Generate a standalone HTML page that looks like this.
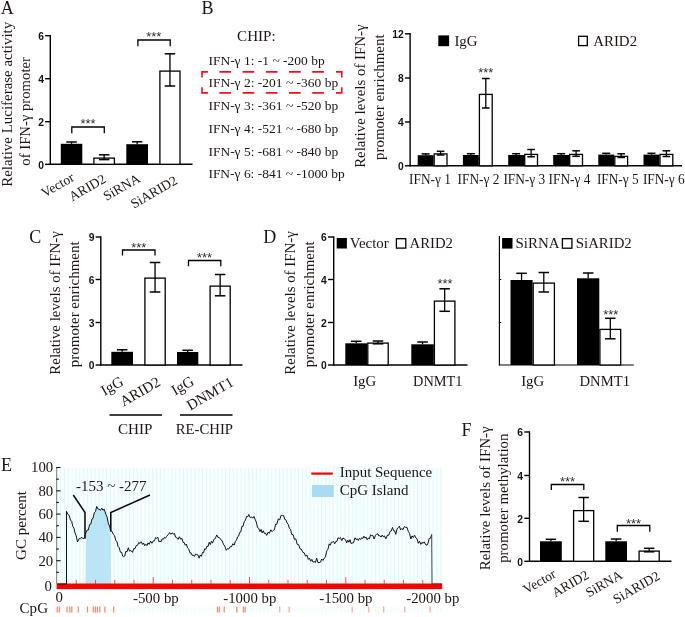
<!DOCTYPE html>
<html lang="en"><head><meta charset="utf-8"><title>Figure</title>
<style>html,body{margin:0;padding:0;background:#fff}svg{display:block}</style></head><body>
<svg width="685" height="617" viewBox="0 0 685 617">
<rect width="685" height="617" fill="#fff"/>
<text x="0.8" y="13.6" font-size="18" font-family="Liberation Serif, serif" fill="#1d1512">A</text>
<text x="201.5" y="13.7" font-size="18" font-family="Liberation Serif, serif" fill="#1d1512">B</text>
<text x="29.3" y="242.5" font-size="18" font-family="Liberation Serif, serif" fill="#1d1512">C</text>
<text x="263.3" y="242.5" font-size="18" font-family="Liberation Serif, serif" fill="#1d1512">D</text>
<text x="1" y="470.5" font-size="18" font-family="Liberation Serif, serif" fill="#1d1512">E</text>
<text x="461.6" y="436.2" font-size="18" font-family="Liberation Serif, serif" fill="#1d1512">F</text>
<line x1="50.3" y1="35.0" x2="50.3" y2="165.0" stroke="#000" stroke-width="1.4"/>
<line x1="45.099999999999994" y1="35.7" x2="50.3" y2="35.7" stroke="#000" stroke-width="1.4"/>
<text x="43.9" y="39.91" font-size="10.3" font-family="Liberation Sans, sans-serif" fill="#111" text-anchor="end" font-weight="bold">6</text>
<line x1="45.099999999999994" y1="78.7" x2="50.3" y2="78.7" stroke="#000" stroke-width="1.4"/>
<text x="43.9" y="82.91" font-size="10.3" font-family="Liberation Sans, sans-serif" fill="#111" text-anchor="end" font-weight="bold">4</text>
<line x1="45.099999999999994" y1="121.7" x2="50.3" y2="121.7" stroke="#000" stroke-width="1.4"/>
<text x="43.9" y="125.91" font-size="10.3" font-family="Liberation Sans, sans-serif" fill="#111" text-anchor="end" font-weight="bold">2</text>
<line x1="45.099999999999994" y1="164.3" x2="50.3" y2="164.3" stroke="#000" stroke-width="1.4"/>
<text x="43.9" y="168.51" font-size="10.3" font-family="Liberation Sans, sans-serif" fill="#111" text-anchor="end" font-weight="bold">0</text>
<line x1="50.3" y1="164.3" x2="192.5" y2="164.3" stroke="#000" stroke-width="1.4"/>
<rect x="60.80" y="143.80" width="21.50" height="20.50" fill="#000"/>
<line x1="71.55" y1="142.0" x2="71.55" y2="143.8" stroke="#000" stroke-width="1.3"/>
<line x1="66.3" y1="142.0" x2="76.8" y2="142.0" stroke="#000" stroke-width="1.5"/>
<rect x="93.90" y="158.10" width="20.50" height="6.20" fill="#fff" stroke="#000" stroke-width="1.3"/>
<line x1="104.15" y1="154.8" x2="104.15" y2="159.6" stroke="#000" stroke-width="1.3"/>
<line x1="98.9" y1="154.8" x2="109.4" y2="154.8" stroke="#000" stroke-width="1.5"/>
<line x1="98.9" y1="159.6" x2="109.4" y2="159.6" stroke="#000" stroke-width="1.5"/>
<rect x="126.30" y="144.20" width="21.70" height="20.10" fill="#000"/>
<line x1="137.15" y1="141.8" x2="137.15" y2="144.2" stroke="#000" stroke-width="1.3"/>
<line x1="131.9" y1="141.8" x2="142.4" y2="141.8" stroke="#000" stroke-width="1.5"/>
<rect x="159.90" y="71.10" width="20.10" height="93.20" fill="#fff" stroke="#000" stroke-width="1.3"/>
<line x1="169.95" y1="53.8" x2="169.95" y2="86.0" stroke="#000" stroke-width="1.3"/>
<line x1="164.7" y1="53.8" x2="175.2" y2="53.8" stroke="#000" stroke-width="1.5"/>
<line x1="164.7" y1="86.0" x2="175.2" y2="86.0" stroke="#000" stroke-width="1.5"/>
<path d="M71.8 133.3 V127.0 H104.3 V133.3" fill="none" stroke="#000" stroke-width="1.3"/>
<text x="88" y="128.3" font-size="12.5" font-family="Liberation Sans, sans-serif" fill="#2a2a2a" text-anchor="middle" textLength="15.2" lengthAdjust="spacingAndGlyphs">***</text>
<path d="M137.9 46.3 V40.0 H170.2 V46.3" fill="none" stroke="#000" stroke-width="1.3"/>
<text x="153.8" y="41.4" font-size="12.5" font-family="Liberation Sans, sans-serif" fill="#2a2a2a" text-anchor="middle" textLength="15.2" lengthAdjust="spacingAndGlyphs">***</text>
<text x="11.6" y="104.3" font-size="14.9" font-family="Liberation Serif, serif" fill="#1d1512" text-anchor="middle" transform="rotate(-90 11.6 104.3)" textLength="165" lengthAdjust="spacingAndGlyphs">Relative Luciferase activity</text>
<text x="29.7" y="111.4" font-size="14.9" font-family="Liberation Serif, serif" fill="#1d1512" text-anchor="middle" transform="rotate(-90 29.7 111.4)" textLength="108.6" lengthAdjust="spacingAndGlyphs">of IFN-γ promoter</text>
<text x="75.2" y="180.0" font-size="13.6" font-family="Liberation Serif, serif" fill="#1d1512" text-anchor="end" transform="rotate(-30 75.2 180.0)">Vector</text>
<text x="107.0" y="181.5" font-size="13.6" font-family="Liberation Serif, serif" fill="#1d1512" text-anchor="end" transform="rotate(-30 107.0 181.5)">ARID2</text>
<text x="141.2" y="181.0" font-size="13.6" font-family="Liberation Serif, serif" fill="#1d1512" text-anchor="end" transform="rotate(-30 141.2 181.0)">SiRNA</text>
<text x="178.5" y="183.0" font-size="13.6" font-family="Liberation Serif, serif" fill="#1d1512" text-anchor="end" transform="rotate(-30 178.5 183.0)">SiARID2</text>
<text x="237.1" y="41.3" font-size="14.9" font-family="Liberation Serif, serif" fill="#1d1512" textLength="38.6" lengthAdjust="spacingAndGlyphs">CHIP:</text>
<text x="208.4" y="64.5" font-size="13.5" font-family="Liberation Serif, serif" fill="#1d1512" textLength="116.3" lengthAdjust="spacingAndGlyphs">IFN-γ 1: -1 ~ -200 bp</text>
<text x="208.4" y="86.8" font-size="13.5" font-family="Liberation Serif, serif" fill="#1d1512" textLength="129.8" lengthAdjust="spacingAndGlyphs">IFN-γ 2: -201 ~ -360 bp</text>
<text x="208.4" y="109.8" font-size="13.5" font-family="Liberation Serif, serif" fill="#1d1512" textLength="129.8" lengthAdjust="spacingAndGlyphs">IFN-γ 3: -361 ~ -520 bp</text>
<text x="208.4" y="132.5" font-size="13.5" font-family="Liberation Serif, serif" fill="#1d1512" textLength="129.8" lengthAdjust="spacingAndGlyphs">IFN-γ 4: -521 ~ -680 bp</text>
<text x="208.4" y="155.5" font-size="13.5" font-family="Liberation Serif, serif" fill="#1d1512" textLength="129.8" lengthAdjust="spacingAndGlyphs">IFN-γ 5: -681 ~ -840 bp</text>
<text x="208.4" y="178.3" font-size="13.5" font-family="Liberation Serif, serif" fill="#1d1512" textLength="136.3" lengthAdjust="spacingAndGlyphs">IFN-γ 6: -841 ~ -1000 bp</text>
<path d="M202 77.6 V71.9 H207.9 M336 71.9 H341.8 V77.6 M341.8 87.2 V92.9 H336 M207.9 92.9 H202 V87.2 M219.4 71.9 h11.7 M219.4 92.9 h11.7 M242.6 71.9 h11.7 M242.6 92.9 h11.7 M265.8 71.9 h11.7 M265.8 92.9 h11.7 M289.0 71.9 h11.7 M289.0 92.9 h11.7 M312.2 71.9 h11.7 M312.2 92.9 h11.7" fill="none" stroke="#fb0d14" stroke-width="1.6"/>
<line x1="410.1" y1="33.099999999999994" x2="410.1" y2="166.5" stroke="#000" stroke-width="1.4"/>
<line x1="404.90000000000003" y1="33.8" x2="410.1" y2="33.8" stroke="#000" stroke-width="1.4"/>
<text x="403.7" y="38.01" font-size="10.3" font-family="Liberation Sans, sans-serif" fill="#111" text-anchor="end" font-weight="bold">12</text>
<line x1="404.90000000000003" y1="78.0" x2="410.1" y2="78.0" stroke="#000" stroke-width="1.4"/>
<text x="403.7" y="82.21" font-size="10.3" font-family="Liberation Sans, sans-serif" fill="#111" text-anchor="end" font-weight="bold">8</text>
<line x1="404.90000000000003" y1="122.0" x2="410.1" y2="122.0" stroke="#000" stroke-width="1.4"/>
<text x="403.7" y="126.21" font-size="10.3" font-family="Liberation Sans, sans-serif" fill="#111" text-anchor="end" font-weight="bold">4</text>
<line x1="404.90000000000003" y1="165.8" x2="410.1" y2="165.8" stroke="#000" stroke-width="1.4"/>
<text x="403.7" y="170.01" font-size="10.3" font-family="Liberation Sans, sans-serif" fill="#111" text-anchor="end" font-weight="bold">0</text>
<line x1="410.1" y1="165.8" x2="682" y2="165.8" stroke="#000" stroke-width="1.4"/>
<text x="365.5" y="96.1" font-size="14.9" font-family="Liberation Serif, serif" fill="#1d1512" text-anchor="middle" transform="rotate(-90 365.5 96.1)" textLength="143.4" lengthAdjust="spacingAndGlyphs">Relative levels of IFN-γ</text>
<text x="384.3" y="97.2" font-size="14.9" font-family="Liberation Serif, serif" fill="#1d1512" text-anchor="middle" transform="rotate(-90 384.3 97.2)" textLength="125.6" lengthAdjust="spacingAndGlyphs">promoter enrichment</text>
<rect x="417.70" y="155.20" width="15.90" height="10.60" fill="#000"/>
<line x1="425.65" y1="153.89999999999998" x2="425.65" y2="155.2" stroke="#000" stroke-width="1.3"/>
<line x1="421.65" y1="153.89999999999998" x2="429.65" y2="153.89999999999998" stroke="#000" stroke-width="1.5"/>
<rect x="434.20" y="153.90" width="12.80" height="11.90" fill="#fff" stroke="#000" stroke-width="1.3"/>
<line x1="440.6" y1="151.3" x2="440.6" y2="155.0" stroke="#000" stroke-width="1.3"/>
<line x1="436.8" y1="151.3" x2="444.4" y2="151.3" stroke="#000" stroke-width="1.5"/>
<line x1="436.8" y1="155.0" x2="444.4" y2="155.0" stroke="#000" stroke-width="1.5"/>
<rect x="462.90" y="155.00" width="15.90" height="10.80" fill="#000"/>
<line x1="470.85" y1="153.7" x2="470.85" y2="155.0" stroke="#000" stroke-width="1.3"/>
<line x1="466.85" y1="153.7" x2="474.85" y2="153.7" stroke="#000" stroke-width="1.5"/>
<rect x="479.40" y="94.40" width="12.80" height="71.40" fill="#fff" stroke="#000" stroke-width="1.3"/>
<line x1="485.8" y1="78.5" x2="485.8" y2="108.0" stroke="#000" stroke-width="1.3"/>
<line x1="482.0" y1="78.5" x2="489.6" y2="78.5" stroke="#000" stroke-width="1.5"/>
<line x1="482.0" y1="108.0" x2="489.6" y2="108.0" stroke="#000" stroke-width="1.5"/>
<rect x="508.20" y="155.00" width="15.90" height="10.80" fill="#000"/>
<line x1="516.15" y1="153.7" x2="516.15" y2="155.0" stroke="#000" stroke-width="1.3"/>
<line x1="512.15" y1="153.7" x2="520.15" y2="153.7" stroke="#000" stroke-width="1.5"/>
<rect x="524.70" y="154.40" width="12.80" height="11.40" fill="#fff" stroke="#000" stroke-width="1.3"/>
<line x1="531.1" y1="149.5" x2="531.1" y2="156.8" stroke="#000" stroke-width="1.3"/>
<line x1="527.3" y1="149.5" x2="534.9" y2="149.5" stroke="#000" stroke-width="1.5"/>
<line x1="527.3" y1="156.8" x2="534.9" y2="156.8" stroke="#000" stroke-width="1.5"/>
<rect x="553.20" y="155.00" width="15.90" height="10.80" fill="#000"/>
<line x1="561.15" y1="153.7" x2="561.15" y2="155.0" stroke="#000" stroke-width="1.3"/>
<line x1="557.15" y1="153.7" x2="565.15" y2="153.7" stroke="#000" stroke-width="1.5"/>
<rect x="569.70" y="154.40" width="12.80" height="11.40" fill="#fff" stroke="#000" stroke-width="1.3"/>
<line x1="576.1" y1="150.8" x2="576.1" y2="156.3" stroke="#000" stroke-width="1.3"/>
<line x1="572.3" y1="150.8" x2="579.9" y2="150.8" stroke="#000" stroke-width="1.5"/>
<line x1="572.3" y1="156.3" x2="579.9" y2="156.3" stroke="#000" stroke-width="1.5"/>
<rect x="598.30" y="154.60" width="15.90" height="11.20" fill="#000"/>
<line x1="606.25" y1="153.29999999999998" x2="606.25" y2="154.6" stroke="#000" stroke-width="1.3"/>
<line x1="602.25" y1="153.29999999999998" x2="610.25" y2="153.29999999999998" stroke="#000" stroke-width="1.5"/>
<rect x="614.80" y="156.40" width="12.80" height="9.40" fill="#fff" stroke="#000" stroke-width="1.3"/>
<line x1="621.2" y1="153.8" x2="621.2" y2="157.5" stroke="#000" stroke-width="1.3"/>
<line x1="617.4" y1="153.8" x2="625.0" y2="153.8" stroke="#000" stroke-width="1.5"/>
<line x1="617.4" y1="157.5" x2="625.0" y2="157.5" stroke="#000" stroke-width="1.5"/>
<rect x="643.50" y="154.60" width="15.90" height="11.20" fill="#000"/>
<line x1="651.45" y1="153.29999999999998" x2="651.45" y2="154.6" stroke="#000" stroke-width="1.3"/>
<line x1="647.45" y1="153.29999999999998" x2="655.45" y2="153.29999999999998" stroke="#000" stroke-width="1.5"/>
<rect x="660.00" y="154.40" width="12.80" height="11.40" fill="#fff" stroke="#000" stroke-width="1.3"/>
<line x1="666.4" y1="150.8" x2="666.4" y2="156.5" stroke="#000" stroke-width="1.3"/>
<line x1="662.6" y1="150.8" x2="670.2" y2="150.8" stroke="#000" stroke-width="1.5"/>
<line x1="662.6" y1="156.5" x2="670.2" y2="156.5" stroke="#000" stroke-width="1.5"/>
<text x="485.8" y="77.4" font-size="12.5" font-family="Liberation Sans, sans-serif" fill="#2a2a2a" text-anchor="middle" textLength="15.2" lengthAdjust="spacingAndGlyphs">***</text>
<rect x="438.30" y="35.40" width="10.80" height="10.80" fill="#000"/>
<text x="454.4" y="46" font-size="14.9" font-family="Liberation Serif, serif" fill="#1d1512" textLength="23.2" lengthAdjust="spacingAndGlyphs">IgG</text>
<rect x="578.60" y="36.30" width="8.70" height="9.30" fill="#fff" stroke="#000" stroke-width="1.3"/>
<text x="593.2" y="46" font-size="14.9" font-family="Liberation Serif, serif" fill="#1d1512" textLength="43.9" lengthAdjust="spacingAndGlyphs">ARID2</text>
<text x="409.1" y="184.0" font-size="13.6" font-family="Liberation Serif, serif" fill="#1d1512" textLength="41.8" lengthAdjust="spacingAndGlyphs">IFN-γ 1</text>
<text x="457.6" y="184.0" font-size="13.6" font-family="Liberation Serif, serif" fill="#1d1512" textLength="41.8" lengthAdjust="spacingAndGlyphs">IFN-γ 2</text>
<text x="503.4" y="184.0" font-size="13.6" font-family="Liberation Serif, serif" fill="#1d1512" textLength="41.8" lengthAdjust="spacingAndGlyphs">IFN-γ 3</text>
<text x="548.6" y="184.0" font-size="13.6" font-family="Liberation Serif, serif" fill="#1d1512" textLength="41.8" lengthAdjust="spacingAndGlyphs">IFN-γ 4</text>
<text x="596.9" y="184.0" font-size="13.6" font-family="Liberation Serif, serif" fill="#1d1512" textLength="41.8" lengthAdjust="spacingAndGlyphs">IFN-γ 5</text>
<text x="642.9" y="184.0" font-size="13.6" font-family="Liberation Serif, serif" fill="#1d1512" textLength="41.8" lengthAdjust="spacingAndGlyphs">IFN-γ 6</text>
<line x1="100.8" y1="236.3" x2="100.8" y2="365.7" stroke="#000" stroke-width="1.4"/>
<line x1="95.6" y1="237.0" x2="100.8" y2="237.0" stroke="#000" stroke-width="1.4"/>
<text x="94.4" y="241.21" font-size="10.3" font-family="Liberation Sans, sans-serif" fill="#111" text-anchor="end" font-weight="bold">9</text>
<line x1="95.6" y1="279.5" x2="100.8" y2="279.5" stroke="#000" stroke-width="1.4"/>
<text x="94.4" y="283.71" font-size="10.3" font-family="Liberation Sans, sans-serif" fill="#111" text-anchor="end" font-weight="bold">6</text>
<line x1="95.6" y1="322.5" x2="100.8" y2="322.5" stroke="#000" stroke-width="1.4"/>
<text x="94.4" y="326.71" font-size="10.3" font-family="Liberation Sans, sans-serif" fill="#111" text-anchor="end" font-weight="bold">3</text>
<line x1="95.6" y1="365.0" x2="100.8" y2="365.0" stroke="#000" stroke-width="1.4"/>
<text x="94.4" y="369.21" font-size="10.3" font-family="Liberation Sans, sans-serif" fill="#111" text-anchor="end" font-weight="bold">0</text>
<line x1="100.8" y1="365.0" x2="242.5" y2="365.0" stroke="#000" stroke-width="1.4"/>
<text x="60.2" y="302.9" font-size="14.9" font-family="Liberation Serif, serif" fill="#1d1512" text-anchor="middle" transform="rotate(-90 60.2 302.9)" textLength="143.5" lengthAdjust="spacingAndGlyphs">Relative levels of IFN-γ</text>
<text x="78.6" y="304.3" font-size="14.9" font-family="Liberation Serif, serif" fill="#1d1512" text-anchor="middle" transform="rotate(-90 78.6 304.3)" textLength="125.7" lengthAdjust="spacingAndGlyphs">promoter enrichment</text>
<rect x="111.30" y="351.80" width="21.70" height="13.20" fill="#000"/>
<line x1="122.15" y1="349.8" x2="122.15" y2="351.8" stroke="#000" stroke-width="1.3"/>
<line x1="116.9" y1="349.8" x2="127.4" y2="349.8" stroke="#000" stroke-width="1.5"/>
<rect x="144.90" y="278.10" width="20.30" height="86.90" fill="#fff" stroke="#000" stroke-width="1.3"/>
<line x1="155.05" y1="262.5" x2="155.05" y2="292.0" stroke="#000" stroke-width="1.3"/>
<line x1="149.8" y1="262.5" x2="160.3" y2="262.5" stroke="#000" stroke-width="1.5"/>
<line x1="149.8" y1="292.0" x2="160.3" y2="292.0" stroke="#000" stroke-width="1.5"/>
<rect x="177.00" y="352.00" width="21.30" height="13.00" fill="#000"/>
<line x1="187.65" y1="350.3" x2="187.65" y2="352.0" stroke="#000" stroke-width="1.3"/>
<line x1="182.4" y1="350.3" x2="192.9" y2="350.3" stroke="#000" stroke-width="1.5"/>
<rect x="210.10" y="286.10" width="20.10" height="78.90" fill="#fff" stroke="#000" stroke-width="1.3"/>
<line x1="220.15" y1="274.5" x2="220.15" y2="295.8" stroke="#000" stroke-width="1.3"/>
<line x1="214.9" y1="274.5" x2="225.4" y2="274.5" stroke="#000" stroke-width="1.5"/>
<line x1="214.9" y1="295.8" x2="225.4" y2="295.8" stroke="#000" stroke-width="1.5"/>
<path d="M122.5 255.6 V250.0 H155.0 V255.6" fill="none" stroke="#000" stroke-width="1.3"/>
<text x="138.8" y="251.6" font-size="12.5" font-family="Liberation Sans, sans-serif" fill="#2a2a2a" text-anchor="middle" textLength="15.2" lengthAdjust="spacingAndGlyphs">***</text>
<path d="M188.5 266.3 V260.5 H220.8 V266.3" fill="none" stroke="#000" stroke-width="1.3"/>
<text x="204.5" y="262.2" font-size="12.5" font-family="Liberation Sans, sans-serif" fill="#2a2a2a" text-anchor="middle" textLength="15.2" lengthAdjust="spacingAndGlyphs">***</text>
<text x="124.5" y="384.3" font-size="14.9" font-family="Liberation Serif, serif" fill="#1d1512" text-anchor="end" transform="rotate(-30 124.5 384.3)">IgG</text>
<text x="161.5" y="384.8" font-size="14.9" font-family="Liberation Serif, serif" fill="#1d1512" text-anchor="end" transform="rotate(-30 161.5 384.8)">ARID2</text>
<text x="195.0" y="384.2" font-size="14.9" font-family="Liberation Serif, serif" fill="#1d1512" text-anchor="end" transform="rotate(-30 195.0 384.2)">IgG</text>
<text x="234.6" y="385.0" font-size="14.9" font-family="Liberation Serif, serif" fill="#1d1512" text-anchor="end" transform="rotate(-30 234.6 385.0)">DNMT1</text>
<line x1="109.5" y1="415" x2="162" y2="415" stroke="#000" stroke-width="1.4"/>
<line x1="180" y1="415" x2="232.5" y2="415" stroke="#000" stroke-width="1.4"/>
<text x="118" y="433.8" font-size="14.9" font-family="Liberation Serif, serif" fill="#1d1512" textLength="34.5" lengthAdjust="spacingAndGlyphs">CHIP</text>
<text x="175.8" y="433.8" font-size="14.9" font-family="Liberation Serif, serif" fill="#1d1512" textLength="57.2" lengthAdjust="spacingAndGlyphs">RE-CHIP</text>
<line x1="333.7" y1="236.3" x2="333.7" y2="365.7" stroke="#000" stroke-width="1.4"/>
<line x1="328.0" y1="237.0" x2="333.7" y2="237.0" stroke="#000" stroke-width="1.4"/>
<text x="326.8" y="241.21" font-size="10.3" font-family="Liberation Sans, sans-serif" fill="#111" text-anchor="end" font-weight="bold">6</text>
<line x1="328.0" y1="279.5" x2="333.7" y2="279.5" stroke="#000" stroke-width="1.4"/>
<text x="326.8" y="283.71" font-size="10.3" font-family="Liberation Sans, sans-serif" fill="#111" text-anchor="end" font-weight="bold">4</text>
<line x1="328.0" y1="322.5" x2="333.7" y2="322.5" stroke="#000" stroke-width="1.4"/>
<text x="326.8" y="326.71" font-size="10.3" font-family="Liberation Sans, sans-serif" fill="#111" text-anchor="end" font-weight="bold">2</text>
<line x1="328.0" y1="365.0" x2="333.7" y2="365.0" stroke="#000" stroke-width="1.4"/>
<text x="326.8" y="369.21" font-size="10.3" font-family="Liberation Sans, sans-serif" fill="#111" text-anchor="end" font-weight="bold">0</text>
<line x1="333.7" y1="365.0" x2="467.5" y2="365.0" stroke="#000" stroke-width="1.4"/>
<text x="295.2" y="302.9" font-size="14.9" font-family="Liberation Serif, serif" fill="#1d1512" text-anchor="middle" transform="rotate(-90 295.2 302.9)" textLength="143.5" lengthAdjust="spacingAndGlyphs">Relative levels of IFN-γ</text>
<text x="313.6" y="304.3" font-size="14.9" font-family="Liberation Serif, serif" fill="#1d1512" text-anchor="middle" transform="rotate(-90 313.6 304.3)" textLength="125.7" lengthAdjust="spacingAndGlyphs">promoter enrichment</text>
<rect x="345.30" y="343.30" width="21.90" height="21.70" fill="#000"/>
<line x1="356.25" y1="341.3" x2="356.25" y2="343.3" stroke="#000" stroke-width="1.3"/>
<line x1="351.0" y1="341.3" x2="361.5" y2="341.3" stroke="#000" stroke-width="1.5"/>
<rect x="367.80" y="343.10" width="20.40" height="21.90" fill="#fff" stroke="#000" stroke-width="1.3"/>
<line x1="378.0" y1="341.0" x2="378.0" y2="343.8" stroke="#000" stroke-width="1.3"/>
<line x1="372.75" y1="341.0" x2="383.25" y2="341.0" stroke="#000" stroke-width="1.5"/>
<line x1="372.75" y1="343.8" x2="383.25" y2="343.8" stroke="#000" stroke-width="1.5"/>
<rect x="411.30" y="344.30" width="22.50" height="20.70" fill="#000"/>
<line x1="422.55" y1="342.0" x2="422.55" y2="344.3" stroke="#000" stroke-width="1.3"/>
<line x1="417.3" y1="342.0" x2="427.8" y2="342.0" stroke="#000" stroke-width="1.5"/>
<rect x="434.40" y="301.10" width="20.50" height="63.90" fill="#fff" stroke="#000" stroke-width="1.3"/>
<line x1="444.65" y1="288.8" x2="444.65" y2="311.3" stroke="#000" stroke-width="1.3"/>
<line x1="439.4" y1="288.8" x2="449.9" y2="288.8" stroke="#000" stroke-width="1.5"/>
<line x1="439.4" y1="311.3" x2="449.9" y2="311.3" stroke="#000" stroke-width="1.5"/>
<text x="445" y="287.9" font-size="12.5" font-family="Liberation Sans, sans-serif" fill="#2a2a2a" text-anchor="middle" textLength="15.2" lengthAdjust="spacingAndGlyphs">***</text>
<rect x="336.70" y="238.00" width="10.20" height="10.50" fill="#000"/>
<text x="349.8" y="248" font-size="14.9" font-family="Liberation Serif, serif" fill="#1d1512" textLength="38.9" lengthAdjust="spacingAndGlyphs">Vector</text>
<rect x="396.40" y="238.70" width="9.40" height="9.40" fill="#fff" stroke="#000" stroke-width="1.3"/>
<text x="409.5" y="248" font-size="14.8" font-family="Liberation Serif, serif" fill="#1d1512" textLength="43.5" lengthAdjust="spacingAndGlyphs">ARID2</text>
<text x="353.2" y="385.8" font-size="14.6" font-family="Liberation Serif, serif" fill="#1d1512" textLength="23" lengthAdjust="spacingAndGlyphs">IgG</text>
<text x="413" y="385.8" font-size="14.6" font-family="Liberation Serif, serif" fill="#1d1512" textLength="49.5" lengthAdjust="spacingAndGlyphs">DNMT1</text>
<line x1="499.4" y1="236" x2="499.4" y2="365.6" stroke="#000" stroke-width="1.15"/>
<line x1="499.4" y1="279.5" x2="501.2" y2="279.5" stroke="#000" stroke-width="1.0"/>
<line x1="499.4" y1="322.5" x2="501.2" y2="322.5" stroke="#000" stroke-width="1.0"/>
<line x1="499.4" y1="365.0" x2="633.8" y2="365.0" stroke="#000" stroke-width="1.2"/>
<rect x="510.50" y="280.00" width="22.10" height="85.00" fill="#000"/>
<line x1="521.55" y1="273.3" x2="521.55" y2="280.0" stroke="#000" stroke-width="1.3"/>
<line x1="516.3" y1="273.3" x2="526.8" y2="273.3" stroke="#000" stroke-width="1.5"/>
<rect x="533.20" y="283.10" width="21.20" height="81.90" fill="#fff" stroke="#000" stroke-width="1.3"/>
<line x1="543.8" y1="272.5" x2="543.8" y2="292.0" stroke="#000" stroke-width="1.3"/>
<line x1="538.55" y1="272.5" x2="549.05" y2="272.5" stroke="#000" stroke-width="1.5"/>
<line x1="538.55" y1="292.0" x2="549.05" y2="292.0" stroke="#000" stroke-width="1.5"/>
<rect x="577.00" y="278.30" width="22.30" height="86.70" fill="#000"/>
<line x1="588.15" y1="273.0" x2="588.15" y2="278.3" stroke="#000" stroke-width="1.3"/>
<line x1="582.9" y1="273.0" x2="593.4" y2="273.0" stroke="#000" stroke-width="1.5"/>
<rect x="599.90" y="329.40" width="20.80" height="35.60" fill="#fff" stroke="#000" stroke-width="1.3"/>
<line x1="610.3" y1="318.3" x2="610.3" y2="338.8" stroke="#000" stroke-width="1.3"/>
<line x1="605.05" y1="318.3" x2="615.55" y2="318.3" stroke="#000" stroke-width="1.5"/>
<line x1="605.05" y1="338.8" x2="615.55" y2="338.8" stroke="#000" stroke-width="1.5"/>
<text x="610.8" y="318.6" font-size="12.5" font-family="Liberation Sans, sans-serif" fill="#2a2a2a" text-anchor="middle" textLength="15.2" lengthAdjust="spacingAndGlyphs">***</text>
<rect x="502.10" y="238.00" width="10.40" height="10.60" fill="#000"/>
<text x="515.5" y="248" font-size="14.9" font-family="Liberation Serif, serif" fill="#1d1512" textLength="44" lengthAdjust="spacingAndGlyphs">SiRNA</text>
<rect x="562.40" y="238.70" width="9.50" height="9.50" fill="#fff" stroke="#000" stroke-width="1.3"/>
<text x="575.8" y="248" font-size="14.8" font-family="Liberation Serif, serif" fill="#1d1512" textLength="56" lengthAdjust="spacingAndGlyphs">SiARID2</text>
<text x="521.2" y="385.8" font-size="14.6" font-family="Liberation Serif, serif" fill="#1d1512" textLength="23" lengthAdjust="spacingAndGlyphs">IgG</text>
<text x="579.5" y="385.8" font-size="14.6" font-family="Liberation Serif, serif" fill="#1d1512" textLength="50.5" lengthAdjust="spacingAndGlyphs">DNMT1</text>
<line x1="529.5" y1="431.3" x2="529.5" y2="562.0" stroke="#000" stroke-width="1.4"/>
<line x1="524.3" y1="432.0" x2="529.5" y2="432.0" stroke="#000" stroke-width="1.4"/>
<text x="523.1" y="436.21" font-size="10.3" font-family="Liberation Sans, sans-serif" fill="#111" text-anchor="end" font-weight="bold">6</text>
<line x1="524.3" y1="475.5" x2="529.5" y2="475.5" stroke="#000" stroke-width="1.4"/>
<text x="523.1" y="479.71" font-size="10.3" font-family="Liberation Sans, sans-serif" fill="#111" text-anchor="end" font-weight="bold">4</text>
<line x1="524.3" y1="518.3" x2="529.5" y2="518.3" stroke="#000" stroke-width="1.4"/>
<text x="523.1" y="522.51" font-size="10.3" font-family="Liberation Sans, sans-serif" fill="#111" text-anchor="end" font-weight="bold">2</text>
<line x1="524.3" y1="561.3" x2="529.5" y2="561.3" stroke="#000" stroke-width="1.4"/>
<text x="523.1" y="565.51" font-size="10.3" font-family="Liberation Sans, sans-serif" fill="#111" text-anchor="end" font-weight="bold">0</text>
<line x1="529.5" y1="561.3" x2="671.5" y2="561.3" stroke="#000" stroke-width="1.4"/>
<text x="490.2" y="498.3" font-size="14.9" font-family="Liberation Serif, serif" fill="#1d1512" text-anchor="middle" transform="rotate(-90 490.2 498.3)" textLength="144" lengthAdjust="spacingAndGlyphs">Relative levels of IFN-γ</text>
<text x="507.8" y="498.2" font-size="14.9" font-family="Liberation Serif, serif" fill="#1d1512" text-anchor="middle" transform="rotate(-90 507.8 498.2)" textLength="129.3" lengthAdjust="spacingAndGlyphs">promoter methylation</text>
<rect x="540.00" y="541.30" width="21.80" height="20.00" fill="#000"/>
<line x1="550.9" y1="539.3" x2="550.9" y2="541.3" stroke="#000" stroke-width="1.3"/>
<line x1="545.65" y1="539.3" x2="556.15" y2="539.3" stroke="#000" stroke-width="1.5"/>
<rect x="573.60" y="510.60" width="20.10" height="50.70" fill="#fff" stroke="#000" stroke-width="1.3"/>
<line x1="583.65" y1="497.5" x2="583.65" y2="521.3" stroke="#000" stroke-width="1.3"/>
<line x1="578.4" y1="497.5" x2="588.9" y2="497.5" stroke="#000" stroke-width="1.5"/>
<line x1="578.4" y1="521.3" x2="588.9" y2="521.3" stroke="#000" stroke-width="1.5"/>
<rect x="605.30" y="541.30" width="21.70" height="20.00" fill="#000"/>
<line x1="616.15" y1="539.0" x2="616.15" y2="541.3" stroke="#000" stroke-width="1.3"/>
<line x1="610.9" y1="539.0" x2="621.4" y2="539.0" stroke="#000" stroke-width="1.5"/>
<rect x="639.10" y="551.10" width="20.10" height="10.20" fill="#fff" stroke="#000" stroke-width="1.3"/>
<line x1="649.15" y1="548.3" x2="649.15" y2="551.8" stroke="#000" stroke-width="1.3"/>
<line x1="643.9" y1="548.3" x2="654.4" y2="548.3" stroke="#000" stroke-width="1.5"/>
<line x1="643.9" y1="551.8" x2="654.4" y2="551.8" stroke="#000" stroke-width="1.5"/>
<path d="M551.3 490.1 V484.5 H583.8 V490.1" fill="none" stroke="#000" stroke-width="1.3"/>
<text x="567.5" y="486.1" font-size="12.5" font-family="Liberation Sans, sans-serif" fill="#2a2a2a" text-anchor="middle" textLength="15.2" lengthAdjust="spacingAndGlyphs">***</text>
<path d="M617.3 531.7 V525.5 H649.8 V531.7" fill="none" stroke="#000" stroke-width="1.3"/>
<text x="633.5" y="527.6" font-size="12.5" font-family="Liberation Sans, sans-serif" fill="#2a2a2a" text-anchor="middle" textLength="15.2" lengthAdjust="spacingAndGlyphs">***</text>
<text x="557.0" y="576.5" font-size="13.6" font-family="Liberation Serif, serif" fill="#1d1512" text-anchor="end" transform="rotate(-30 557.0 576.5)">Vector</text>
<text x="590.0" y="577.5" font-size="13.6" font-family="Liberation Serif, serif" fill="#1d1512" text-anchor="end" transform="rotate(-30 590.0 577.5)">ARID2</text>
<text x="623.6" y="577.5" font-size="13.6" font-family="Liberation Serif, serif" fill="#1d1512" text-anchor="end" transform="rotate(-30 623.6 577.5)">SiRNA</text>
<text x="660.8" y="578.5" font-size="13.6" font-family="Liberation Serif, serif" fill="#1d1512" text-anchor="end" transform="rotate(-30 660.8 578.5)">SiARID2</text>
<defs><pattern id="st" x="56.2" y="0" width="3.84" height="10" patternUnits="userSpaceOnUse"><rect x="0" y="0" width="3.84" height="10" fill="#fafefe"/><rect x="0" y="0" width="1.05" height="10" fill="#dcfafc"/></pattern></defs>
<rect x="57.4" y="468.2" width="385" height="115.30000000000001" fill="url(#st)"/>
<rect x="57.4" y="606.8" width="385" height="5.8" fill="url(#st)" opacity="0.5"/>
<path d="M85.5 584 L85.80 532.91 L87.05 530.16 L88.30 530.06 L89.55 524.62 L90.80 524.12 L91.93 519.05 L93.07 518.30 L94.20 512.96 L95.45 511.67 L96.70 506.44 L97.95 508.94 L99.20 509.29 L100.45 510.25 L101.70 508.17 L102.95 510.23 L104.20 509.18 L105.80 514.18 L107.05 517.02 L108.30 523.29 L109.55 526.17 L110.80 531.15 L110.9 584 Z" fill="#b9e5f7"/>
<line x1="76.25" y1="579.8" x2="76.25" y2="583.8" stroke="#ff4a4a" stroke-width="1.0"/>
<line x1="95.5" y1="579.8" x2="95.5" y2="583.8" stroke="#ff4a4a" stroke-width="1.0"/>
<line x1="114.75" y1="579.8" x2="114.75" y2="583.8" stroke="#ff4a4a" stroke-width="1.0"/>
<line x1="134.0" y1="579.8" x2="134.0" y2="583.8" stroke="#ff4a4a" stroke-width="1.0"/>
<line x1="153.25" y1="577" x2="153.25" y2="583.8" stroke="#ff4a4a" stroke-width="1.0"/>
<line x1="172.5" y1="579.8" x2="172.5" y2="583.8" stroke="#ff4a4a" stroke-width="1.0"/>
<line x1="191.75" y1="579.8" x2="191.75" y2="583.8" stroke="#ff4a4a" stroke-width="1.0"/>
<line x1="211.0" y1="579.8" x2="211.0" y2="583.8" stroke="#ff4a4a" stroke-width="1.0"/>
<line x1="230.25" y1="579.8" x2="230.25" y2="583.8" stroke="#ff4a4a" stroke-width="1.0"/>
<line x1="249.5" y1="577" x2="249.5" y2="583.8" stroke="#ff4a4a" stroke-width="1.0"/>
<line x1="268.75" y1="579.8" x2="268.75" y2="583.8" stroke="#ff4a4a" stroke-width="1.0"/>
<line x1="288.0" y1="579.8" x2="288.0" y2="583.8" stroke="#ff4a4a" stroke-width="1.0"/>
<line x1="307.25" y1="579.8" x2="307.25" y2="583.8" stroke="#ff4a4a" stroke-width="1.0"/>
<line x1="326.5" y1="579.8" x2="326.5" y2="583.8" stroke="#ff4a4a" stroke-width="1.0"/>
<line x1="345.75" y1="577" x2="345.75" y2="583.8" stroke="#ff4a4a" stroke-width="1.0"/>
<line x1="365.0" y1="579.8" x2="365.0" y2="583.8" stroke="#ff4a4a" stroke-width="1.0"/>
<line x1="384.25" y1="579.8" x2="384.25" y2="583.8" stroke="#ff4a4a" stroke-width="1.0"/>
<line x1="403.5" y1="579.8" x2="403.5" y2="583.8" stroke="#ff4a4a" stroke-width="1.0"/>
<line x1="422.75" y1="579.8" x2="422.75" y2="583.8" stroke="#ff4a4a" stroke-width="1.0"/>
<rect x="56.60" y="583.50" width="385.60" height="5.60" fill="#ff0000"/>
<path d="M57.00 584.00 L66.50 584.00 L66.50 511.30 L67.85 514.37 L69.20 515.36 L70.45 520.00 L71.70 521.33 L72.80 526.40 L73.90 528.02 L75.00 532.85 L76.25 536.04 L77.50 542.03 L79.20 538.51 L80.45 538.84 L81.70 537.12 L83.20 538.85 L84.70 537.26 L85.80 532.91 L87.05 530.16 L88.30 530.06 L89.55 524.62 L90.80 524.12 L91.93 519.05 L93.07 518.30 L94.20 512.96 L95.45 511.67 L96.70 506.44 L97.95 508.94 L99.20 509.29 L100.45 510.25 L101.70 508.17 L102.95 510.23 L104.20 509.18 L105.80 514.18 L107.05 517.02 L108.30 523.29 L109.55 526.17 L110.80 531.15 L112.05 531.38 L113.30 534.21 L114.55 535.69 L115.80 540.58 L116.93 541.61 L118.07 546.52 L119.20 547.73 L120.45 552.23 L121.70 552.37 L122.70 556.12 L123.70 556.68 L124.75 556.08 L125.80 551.41 L127.05 551.75 L128.30 547.74 L129.55 551.22 L130.80 550.39 L132.50 552.38 L133.75 548.62 L135.00 548.74 L136.25 545.61 L137.50 545.34 L138.75 542.48 L140.00 543.49 L141.25 541.76 L142.50 544.39 L143.60 543.06 L144.70 545.74 L145.80 544.17 L146.93 545.59 L148.07 542.87 L149.20 544.36 L150.57 541.14 L151.93 543.25 L153.30 540.80 L154.43 540.78 L155.57 537.59 L156.70 538.38 L157.80 537.21 L158.90 541.77 L160.00 541.14 L161.10 541.77 L162.20 538.76 L163.30 539.52 L164.43 537.37 L165.57 538.15 L166.70 536.29 L168.30 534.55 L169.55 532.58 L170.80 534.32 L172.05 532.80 L173.30 533.95 L174.43 533.43 L175.57 537.14 L176.70 537.60 L178.07 539.41 L179.43 536.75 L180.80 539.34 L181.93 538.44 L183.07 542.40 L184.20 542.63 L185.30 545.30 L186.40 544.02 L187.50 547.86 L188.75 549.00 L190.00 552.96 L191.10 552.90 L192.20 555.40 L193.30 555.06 L194.43 556.43 L195.57 553.99 L196.70 554.50 L197.95 554.91 L199.20 558.13 L200.30 554.96 L201.40 556.34 L202.50 552.38 L203.60 552.70 L204.70 548.76 L205.80 549.21 L206.93 546.16 L208.07 546.54 L209.20 542.30 L210.30 544.57 L211.40 541.33 L212.50 543.15 L213.90 539.35 L215.30 538.57 L216.70 534.93 L218.07 537.41 L219.43 537.58 L220.80 539.69 L222.05 540.64 L223.30 543.91 L224.80 546.18 L226.30 550.30 L227.53 548.57 L228.77 548.87 L230.00 546.87 L231.40 546.83 L232.80 543.76 L234.20 545.05 L235.30 541.37 L236.40 540.46 L237.50 536.89 L238.60 536.14 L239.70 532.47 L240.80 531.86 L241.93 526.34 L243.07 526.27 L244.20 521.76 L245.45 520.11 L246.70 516.31 L247.75 516.70 L248.80 514.46 L250.25 517.73 L251.70 517.05 L252.80 518.20 L253.90 516.40 L255.00 519.08 L256.25 521.91 L257.50 527.49 L258.75 528.31 L260.00 531.58 L261.10 529.43 L262.20 532.92 L263.30 530.77 L264.43 533.54 L265.57 533.02 L266.70 535.45 L268.07 532.20 L269.43 533.29 L270.80 529.80 L272.05 531.63 L273.30 530.30 L274.43 529.75 L275.57 524.12 L276.70 524.37 L278.30 518.97 L279.70 519.80 L281.10 515.30 L282.50 515.50 L283.60 515.59 L284.70 519.20 L285.80 519.67 L287.05 522.94 L288.30 524.45 L289.43 528.50 L290.57 529.23 L291.70 534.46 L293.07 534.55 L294.43 539.38 L295.80 538.81 L297.20 544.41 L298.60 544.66 L300.00 548.80 L301.40 549.27 L302.80 552.29 L304.20 552.82 L305.57 556.18 L306.93 555.06 L308.30 559.36 L309.48 558.12 L310.66 561.23 L311.84 559.38 L313.02 562.17 L314.20 561.61 L315.45 562.43 L316.70 558.20 L317.95 562.63 L319.20 562.57 L320.45 562.28 L321.70 558.99 L322.95 560.43 L324.20 558.18 L325.45 557.11 L326.70 551.04 L327.95 549.27 L329.20 543.85 L330.30 545.24 L331.40 542.18 L332.50 542.11 L333.60 541.37 L334.70 543.81 L335.80 541.47 L336.93 541.42 L338.07 537.69 L339.20 538.68 L340.45 537.50 L341.70 540.62 L342.95 538.04 L344.20 538.72 L345.45 539.58 L346.70 542.87 L347.80 540.16 L348.90 542.18 L350.00 539.66 L351.00 543.46 L352.00 543.12 L353.50 542.72 L355.00 537.81 L356.10 539.59 L357.20 538.65 L358.30 540.52 L359.43 538.27 L360.57 539.60 L361.70 537.62 L362.80 538.60 L363.90 536.18 L365.00 538.12 L366.10 537.07 L367.20 539.79 L368.30 538.09 L369.43 538.75 L370.57 534.81 L371.70 535.75 L372.95 535.56 L374.20 539.07 L375.45 535.38 L376.70 534.00 L377.80 533.80 L378.90 535.97 L380.00 535.68 L381.10 537.02 L382.20 535.08 L383.30 536.75 L384.55 535.93 L385.80 538.89 L387.50 535.03 L388.75 535.27 L390.00 531.49 L391.25 530.94 L392.50 527.50 L393.60 530.69 L394.70 530.87 L395.80 534.30 L397.05 528.94 L398.30 527.51 L399.43 526.15 L400.57 529.95 L401.70 528.50 L403.07 529.56 L404.43 526.48 L405.80 527.46 L407.05 527.45 L408.30 531.51 L409.55 533.46 L410.80 539.03 L412.05 535.88 L413.30 537.63 L414.55 535.16 L415.80 537.85 L417.05 538.86 L418.30 543.30 L419.55 541.27 L420.80 544.36 L421.93 542.46 L423.07 543.32 L424.20 541.80 L425.60 544.64 L427.00 545.28 L428.10 543.00 L429.20 538.30 L430.45 538.27 L431.70 534.50" fill="none" stroke="#050505" stroke-width="0.95" stroke-linejoin="miter"/>
<path d="M431.70 534.50 L432 584 L441.7 584" fill="none" stroke="#3a3a3a" stroke-width="0.95"/>
<line x1="56.7" y1="467.0" x2="56.7" y2="583.6" stroke="#777" stroke-width="1.0"/>
<line x1="56.3" y1="572.35" x2="59.0" y2="572.35" stroke="#111" stroke-width="1.1"/>
<line x1="56.3" y1="560.7" x2="60.5" y2="560.7" stroke="#111" stroke-width="1.1"/>
<line x1="56.3" y1="549.05" x2="59.0" y2="549.05" stroke="#111" stroke-width="1.1"/>
<line x1="56.3" y1="537.4" x2="60.5" y2="537.4" stroke="#111" stroke-width="1.1"/>
<line x1="56.3" y1="525.75" x2="59.0" y2="525.75" stroke="#111" stroke-width="1.1"/>
<line x1="56.3" y1="514.1" x2="60.5" y2="514.1" stroke="#111" stroke-width="1.1"/>
<line x1="56.3" y1="502.45" x2="59.0" y2="502.45" stroke="#111" stroke-width="1.1"/>
<line x1="56.3" y1="490.8" x2="60.5" y2="490.8" stroke="#111" stroke-width="1.1"/>
<line x1="56.3" y1="479.15" x2="59.0" y2="479.15" stroke="#111" stroke-width="1.1"/>
<line x1="56.3" y1="467.5" x2="60.5" y2="467.5" stroke="#111" stroke-width="1.1"/>
<text x="51.800000000000004" y="590.9" font-size="14.8" font-family="Liberation Serif, serif" fill="#1d1512" text-anchor="end">0</text>
<text x="53.2" y="565.6" font-size="14.8" font-family="Liberation Serif, serif" fill="#1d1512" text-anchor="end">20</text>
<text x="53.2" y="542.3" font-size="14.8" font-family="Liberation Serif, serif" fill="#1d1512" text-anchor="end">40</text>
<text x="53.2" y="519.0" font-size="14.8" font-family="Liberation Serif, serif" fill="#1d1512" text-anchor="end">60</text>
<text x="53.2" y="495.7" font-size="14.8" font-family="Liberation Serif, serif" fill="#1d1512" text-anchor="end">80</text>
<text x="53.2" y="472.4" font-size="14.8" font-family="Liberation Serif, serif" fill="#1d1512" text-anchor="end">100</text>
<text x="26.0" y="525.5" font-size="14.8" font-family="Liberation Serif, serif" fill="#1d1512" text-anchor="middle" transform="rotate(-90 26.0 525.5)" textLength="69" lengthAdjust="spacingAndGlyphs">GC percent</text>
<text x="55.4" y="602.4" font-size="14.8" font-family="Liberation Serif, serif" fill="#1d1512">0</text>
<text x="133" y="602.5" font-size="14.8" font-family="Liberation Serif, serif" fill="#1d1512" textLength="45.8" lengthAdjust="spacingAndGlyphs">-500 bp</text>
<text x="223.3" y="602.5" font-size="14.8" font-family="Liberation Serif, serif" fill="#1d1512" textLength="53" lengthAdjust="spacingAndGlyphs">-1000 bp</text>
<text x="319.3" y="602.5" font-size="14.8" font-family="Liberation Serif, serif" fill="#1d1512" textLength="53.2" lengthAdjust="spacingAndGlyphs">-1500 bp</text>
<text x="406.3" y="602.5" font-size="14.8" font-family="Liberation Serif, serif" fill="#1d1512" textLength="53" lengthAdjust="spacingAndGlyphs">-2000 bp</text>
<text x="19.6" y="613.3" font-size="15" font-family="Liberation Serif, serif" fill="#1d1512" textLength="28.4" lengthAdjust="spacingAndGlyphs">CpG</text>
<line x1="57.2" y1="606.5" x2="57.2" y2="612.5" stroke="#f3876a" stroke-width="1.2"/>
<line x1="59.3" y1="606.5" x2="59.3" y2="612.5" stroke="#f3876a" stroke-width="1.2"/>
<line x1="67.0" y1="606.5" x2="67.0" y2="612.5" stroke="#f3876a" stroke-width="1.2"/>
<line x1="69.8" y1="606.5" x2="69.8" y2="612.5" stroke="#f3876a" stroke-width="1.2"/>
<line x1="71.8" y1="606.5" x2="71.8" y2="612.5" stroke="#f3876a" stroke-width="1.2"/>
<line x1="78.3" y1="606.5" x2="78.3" y2="612.5" stroke="#f3876a" stroke-width="1.2"/>
<line x1="87.5" y1="606.5" x2="87.5" y2="612.5" stroke="#f3876a" stroke-width="1.2"/>
<line x1="93.3" y1="606.5" x2="93.3" y2="612.5" stroke="#f3876a" stroke-width="1.2"/>
<line x1="95.3" y1="606.5" x2="95.3" y2="612.5" stroke="#f3876a" stroke-width="1.2"/>
<line x1="97.4" y1="606.5" x2="97.4" y2="612.5" stroke="#f3876a" stroke-width="1.2"/>
<line x1="99.8" y1="606.5" x2="99.8" y2="612.5" stroke="#f3876a" stroke-width="1.2"/>
<line x1="104.9" y1="606.5" x2="104.9" y2="612.5" stroke="#f3876a" stroke-width="1.2"/>
<line x1="113.7" y1="606.5" x2="113.7" y2="612.5" stroke="#f3876a" stroke-width="1.2"/>
<line x1="217.5" y1="606.5" x2="217.5" y2="612.5" stroke="#f3876a" stroke-width="1.2"/>
<line x1="219.3" y1="606.5" x2="219.3" y2="612.5" stroke="#f3876a" stroke-width="1.2"/>
<line x1="224.2" y1="606.5" x2="224.2" y2="612.5" stroke="#f3876a" stroke-width="1.2"/>
<line x1="236.8" y1="606.5" x2="236.8" y2="612.5" stroke="#f3876a" stroke-width="1.2"/>
<line x1="243.3" y1="606.5" x2="243.3" y2="612.5" stroke="#f3876a" stroke-width="1.2"/>
<line x1="245.1" y1="606.5" x2="245.1" y2="612.5" stroke="#f3876a" stroke-width="1.2"/>
<line x1="279.7" y1="606.5" x2="279.7" y2="612.5" stroke="#f8b09a" stroke-width="1.3"/>
<line x1="289.2" y1="606.5" x2="289.2" y2="612.5" stroke="#f8b09a" stroke-width="1.3"/>
<line x1="352.2" y1="606.5" x2="352.2" y2="612.5" stroke="#f8b09a" stroke-width="1.3"/>
<line x1="368.8" y1="606.5" x2="368.8" y2="612.5" stroke="#f8b09a" stroke-width="1.3"/>
<line x1="383.7" y1="606.5" x2="383.7" y2="612.5" stroke="#f8b09a" stroke-width="1.3"/>
<line x1="404.7" y1="606.5" x2="404.7" y2="612.5" stroke="#f8b09a" stroke-width="1.3"/>
<line x1="430.1" y1="606.5" x2="430.1" y2="612.5" stroke="#f8b09a" stroke-width="1.3"/>
<text x="76.0" y="491.4" font-size="15" font-family="Liberation Serif, serif" fill="#1d1512" textLength="70.4" lengthAdjust="spacingAndGlyphs">-153 ~ -277</text>
<path d="M73.3 495 L85 512.5 V538.8" fill="none" stroke="#0c0c0c" stroke-width="1.55"/>
<path d="M150 495 L110.8 512.5 V531.3" fill="none" stroke="#0c0c0c" stroke-width="1.55"/>
<line x1="311.3" y1="473.6" x2="332.8" y2="473.6" stroke="#ff0000" stroke-width="2.2"/>
<text x="339.8" y="476.8" font-size="14.8" font-family="Liberation Serif, serif" fill="#1d1512" textLength="92.4" lengthAdjust="spacingAndGlyphs">Input Sequence</text>
<rect x="312.00" y="485.00" width="21.80" height="12.00" fill="#a9dcf0"/>
<text x="339.8" y="495" font-size="14.8" font-family="Liberation Serif, serif" fill="#1d1512" textLength="68.6" lengthAdjust="spacingAndGlyphs">CpG Island</text>
</svg></body></html>
